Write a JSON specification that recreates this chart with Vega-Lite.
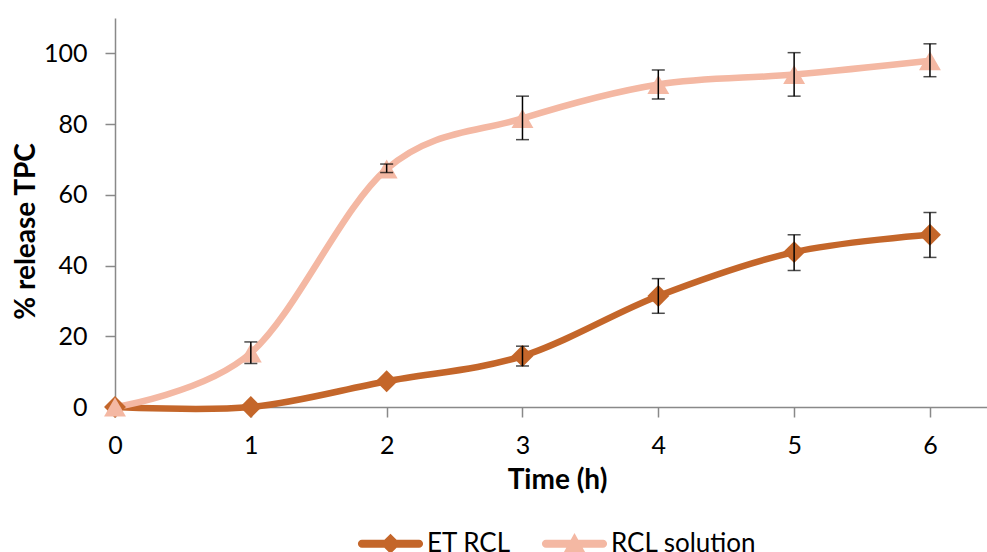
{
  "$schema": "https://vega.github.io/schema/vega-lite/v6.json",
  "width": 872,
  "height": 389,
  "autosize": {"type": "none"},
  "padding": {"left": 115, "top": 18, "right": 0, "bottom": 145},
  "background": "white",
  "config": {
    "view": {"stroke": null},
    "font": "Lato",
    "axis": {
      "grid": false,
      "domainColor": "#898989",
      "domainWidth": 1.5,
      "tickColor": "#898989",
      "tickWidth": 1.5,
      "tickSize": 10,
      "labelFlush": false,
      "labelFont": "Lato",
      "labelFontSize": 25,
      "labelColor": "black",
      "titleFont": "Lato",
      "titleFontSize": 28,
      "titleFontWeight": "bold",
      "titleColor": "black"
    }
  },
  "datasets": {
    "pts": [
      {"series": "ET RCL", "time": 0, "value": 0},
      {"series": "ET RCL", "time": 1, "value": 0},
      {"series": "ET RCL", "time": 2, "value": 7.3},
      {"series": "ET RCL", "time": 3, "value": 14.4},
      {"series": "ET RCL", "time": 4, "value": 31.4},
      {"series": "ET RCL", "time": 5, "value": 43.8},
      {"series": "ET RCL", "time": 6, "value": 48.7},
      {"series": "RCL solution", "time": 0, "value": 0},
      {"series": "RCL solution", "time": 1, "value": 15.3},
      {"series": "RCL solution", "time": 2, "value": 67.3},
      {"series": "RCL solution", "time": 3, "value": 81.6},
      {"series": "RCL solution", "time": 4, "value": 91.2},
      {"series": "RCL solution", "time": 5, "value": 94},
      {"series": "RCL solution", "time": 6, "value": 97.9}
    ],
    "err": [
      {"series": "ET RCL", "time": 3, "lo": 11.6, "hi": 17.2},
      {"series": "ET RCL", "time": 4, "lo": 26.5, "hi": 36.3},
      {"series": "ET RCL", "time": 5, "lo": 38.6, "hi": 48.7},
      {"series": "ET RCL", "time": 6, "lo": 42.3, "hi": 55},
      {"series": "RCL solution", "time": 1, "lo": 12.3, "hi": 18.4},
      {"series": "RCL solution", "time": 2, "lo": 66.3, "hi": 68.7},
      {"series": "RCL solution", "time": 3, "lo": 75.6, "hi": 87.9},
      {"series": "RCL solution", "time": 4, "lo": 87.1, "hi": 95.3},
      {"series": "RCL solution", "time": 5, "lo": 87.9, "hi": 100.2},
      {"series": "RCL solution", "time": 6, "lo": 93.4, "hi": 102.7}
    ]
  },
  "layer": [
    {
      "data": {"name": "pts"},
      "mark": {"type": "line", "interpolate": "cardinal", "strokeWidth": 6.5, "strokeCap": "butt"},
      "encoding": {
        "x": {
          "field": "time", "type": "quantitative",
          "title": "Time (h)",
          "scale": {"domain": [0, 6.42], "nice": false, "zero": false},
          "axis": {
            "values": [0, 1, 2, 3, 4, 5, 6],
            "format": "d",
            "labelPadding": 16,
            "titleX": 442,
            "titleY": 73,
            "titleBaseline": "middle"
          }
        },
        "y": {
          "field": "value", "type": "quantitative",
          "title": "% release TPC",
          "scale": {"domain": [0, 110], "nice": false},
          "axis": {
            "values": [0, 20, 40, 60, 80, 100],
            "labelPadding": 18,
            "titleX": -89,
            "titleY": 213,
            "titleBaseline": "middle"
          }
        },
        "color": {
          "field": "series", "type": "nominal",
          "scale": {"domain": ["ET RCL", "RCL solution"], "range": ["#C4662A", "#F4B8A3"]},
          "legend": {
            "orient": "none",
            "direction": "horizontal",
            "legendX": 243,
            "legendY": 493,
            "padding": 0,
            "title": null,
            "symbolType": "M-1,-0.1L1,-0.1L1,0.1L-1,0.1Z",
            "symbolSize": 4225,
            "symbolStrokeWidth": 0,
            "labelFont": "Lato",
            "labelFontSize": 26,
            "labelColor": "black",
            "labelOffset": 4,
            "columnPadding": 30,
            "encode": {
              "symbols": {
                "update": {
                  "shape": {"signal": "datum.value === 'ET RCL' ? 'M-0.88,-0.123L0.88,-0.123A0.123,0.123 0 0 1 0.88,0.123L-0.88,0.123A0.123,0.123 0 0 1 -0.88,-0.123Z M0,-0.31L0.31,0L0,0.31L-0.31,0Z' : 'M-0.88,-0.123L0.88,-0.123A0.123,0.123 0 0 1 0.88,0.123L-0.88,0.123A0.123,0.123 0 0 1 -0.88,-0.123Z M0,-0.33L0.35,0.3L-0.35,0.3Z'"},
                  "fill": {"signal": "scale('color', datum.value)"},
                  "stroke": {"value": "transparent"},
                  "strokeWidth": {"value": 0},
                  "opacity": {"value": 1}
                }
              }
            }
          }
        }
      }
    },
    {
      "data": {"name": "pts"},
      "transform": [{"filter": "datum.series === 'ET RCL'"}],
      "mark": {"type": "point", "shape": "diamond", "filled": true, "opacity": 1, "size": 480},
      "encoding": {
        "x": {"field": "time", "type": "quantitative", "title": "Time (h)"},
        "y": {"field": "value", "type": "quantitative", "title": "% release TPC"},
        "color": {"field": "series", "type": "nominal"}
      }
    },
    {
      "data": {"name": "pts"},
      "transform": [{"filter": "datum.series === 'RCL solution'"}],
      "mark": {"type": "point", "shape": "triangle-up", "filled": true, "opacity": 1, "size": 480},
      "encoding": {
        "x": {"field": "time", "type": "quantitative", "title": "Time (h)"},
        "y": {"field": "value", "type": "quantitative", "title": "% release TPC"},
        "color": {"field": "series", "type": "nominal"}
      }
    },
    {
      "data": {"name": "err"},
      "mark": {"type": "errorbar", "color": "black", "thickness": 1.5, "ticks": {"size": 13, "color": "black", "thickness": 1.5}},
      "encoding": {
        "x": {"field": "time", "type": "quantitative", "title": "Time (h)"},
        "y": {"field": "lo", "type": "quantitative", "title": "% release TPC"},
        "y2": {"field": "hi"}
      }
    }
  ]
}
